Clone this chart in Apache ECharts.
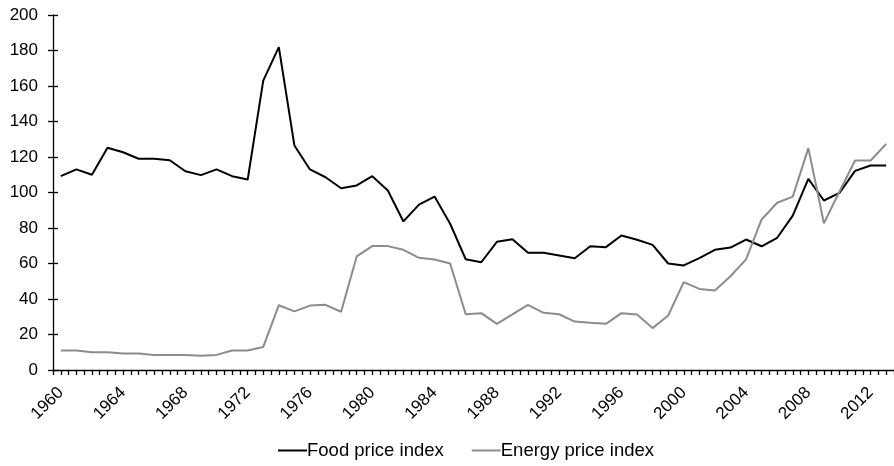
<!DOCTYPE html>
<html>
<head>
<meta charset="utf-8">
<script src="https://cdn.jsdelivr.net/npm/echarts@6/dist/echarts.min.js"></script>
<style>html,body{margin:0;padding:0;background:#fff;}#c{width:894px;height:466px;}</style>
</head>
<body>
<div id="c"></div>
<script>
const years = [];
for (let y = 1960; y <= 2013; y++) years.push(String(y));
const foodIndex = [109.2,113,110,125.2,122.7,119,119,118.2,112,109.8,113,109.2,107.3,163,181.9,126.5,113,108.6,102.4,104,109.2,101.1,83.7,93.2,97.7,82.4,62.4,60.7,72.2,73.7,66,66,64.5,63,69.7,69.2,75.8,73.4,70.5,60,58.9,63,67.7,69,73.5,69.7,74.5,87,107.7,95.5,99.8,112.2,115.2,115.2];
const energyIndex = [11,11,10,10,9.3,9.3,8.5,8.5,8.5,8,8.5,11,11,13,36.5,33,36.3,36.7,32.8,64,69.8,69.8,67.7,63.2,62.3,60,31.4,32,26,31.3,36.7,32.2,31.4,27.3,26.6,26,32,31.3,23.6,30.7,49.5,45.7,44.8,52.8,62.3,84.8,94.2,97.7,125,82.7,100.6,118,118,127.4];
const seriesNames = ['Food price index', 'Energy price index'];

const chart = echarts.init(document.getElementById('c'), null, {renderer: 'canvas'});
const font = 'Liberation Sans, Arial, sans-serif';
const tickStyle = {color: '#000', width: 1.3};
chart.setOption({
  animation: false,
  textStyle: {fontFamily: font},
  grid: {left: 53, top: 15, bottom: 96, right: -4, containLabel: false},
  legend: {
    bottom: 1, left: 273,
    itemWidth: 29, itemHeight: 2, itemGap: 28,
    icon: 'rect',
    textStyle: {fontSize: 18.5, color: '#000', fontFamily: font, padding: [0,0,0,-5]},
    data: seriesNames
  },
  xAxis: [{
    type: 'category', data: years, boundaryGap: true,
    axisLine: {show: true, lineStyle: {color: '#000', width: 1.3}},
    axisTick: {show: true, interval: 0, length: 5, lineStyle: tickStyle},
    axisLabel: {show: true, interval: 3, rotate: 45, fontSize: 17, color: '#000', fontFamily: font, margin: 20},
    splitLine: {show: false}
  }, {
    type: 'category', data: years, boundaryGap: true, position: 'bottom',
    axisLine: {show: false, onZero: false},
    axisTick: {show: true, interval: 0, alignWithLabel: true, length: 5, lineStyle: tickStyle},
    axisLabel: {show: false},
    splitLine: {show: false}
  }],
  yAxis: [{
    type: 'value', min: 0, max: 200, interval: 20,
    axisLine: {show: true, lineStyle: {color: '#000', width: 1.3}},
    axisTick: {show: true, length: 5, lineStyle: tickStyle},
    axisLabel: {fontSize: 17, color: '#000', fontFamily: font, margin: 15},
    splitLine: {show: false}
  }, {
    type: 'value', min: 0, max: 200, interval: 20, position: 'left',
    axisLine: {show: false},
    axisTick: {show: true, inside: true, length: 5, lineStyle: tickStyle},
    axisLabel: {show: false},
    splitLine: {show: false}
  }],
  series: [{
    name: seriesNames[0], type: 'line', data: foodIndex, xAxisIndex: 0, yAxisIndex: 0,
    symbol: 'none', lineStyle: {color: '#000', width: 2}, itemStyle: {color: '#000'}
  }, {
    name: seriesNames[1], type: 'line', data: energyIndex, xAxisIndex: 0, yAxisIndex: 0,
    symbol: 'none', lineStyle: {color: '#8c8c8c', width: 2}, itemStyle: {color: '#8c8c8c'}
  }]
});
</script>
</body>
</html>
